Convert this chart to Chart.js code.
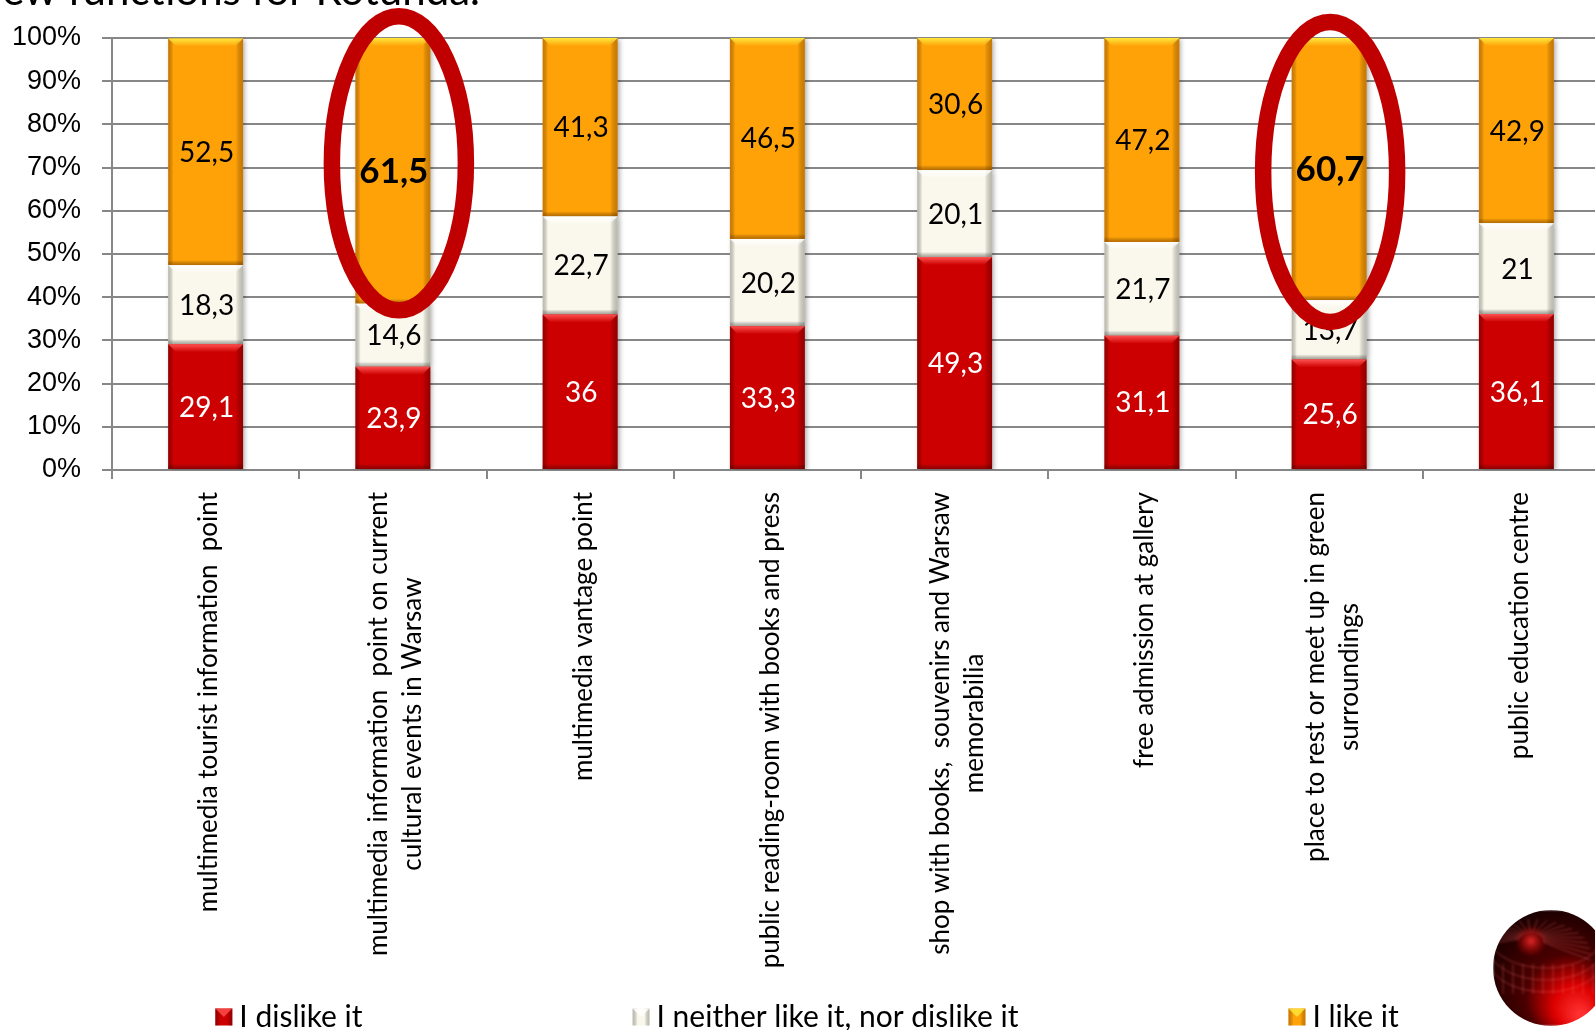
<!DOCTYPE html>
<html>
<head>
<meta charset="utf-8">
<title>New functions for Rotunda</title>
<script src="https://cdn.jsdelivr.net/npm/chart.js@4.4.1/dist/chart.umd.min.js"></script>
<style>
  html, body { margin: 0; padding: 0; overflow: hidden; background: #ffffff; }
  canvas { display: block; }
</style>
</head>
<body>
<canvas id="chart" width="1615" height="1030"></canvas>
<script>
// ---- data ----
const categories = [
  ['multimedia tourist information  point'],
  ['multimedia information  point on current', 'cultural events in Warsaw'],
  ['multimedia vantage point'],
  ['public reading-room with books and press'],
  ['shop with books,  souvenirs and Warsaw', 'memorabilia'],
  ['free admission at gallery'],
  ['place to rest or meet up in green', 'surroundings'],
  ['public education centre']
];
const seriesNames = ['I dislike it', 'I neither like it, nor dislike it', 'I like it'];
const dislike = [29.1, 23.9, 36, 33.3, 49.3, 31.1, 25.6, 36.1];
const neutral = [18.3, 14.6, 22.7, 20.2, 20.1, 21.7, 13.7, 21];
const like    = [52.5, 61.5, 41.3, 46.5, 30.6, 47.2, 60.7, 42.9];
const yTickValues = [0, 10, 20, 30, 40, 50, 60, 70, 80, 90, 100];
const highlighted = [1, 6];          // categories circled in red, "like" value in bold
const titleText = 'new functions for Rotunda.';

// ---- styling ----
const CAL = "Lato, 'Open Sans', sans-serif";
const ARI = "'Liberation Sans', Arial, sans-serif";
const GRID = '#878787';
const seriesStyle = [
  { fill: '#CC0000', top: [255, 80, 80],   dark: 'rgba(80,0,0,0.45)',    text: '#FFFFFF' },
  { fill: '#FAF8EC', top: [255, 255, 255], dark: 'rgba(110,110,100,0.45)', text: '#000000' },
  { fill: '#FFA208', top: [255, 232, 60],  dark: 'rgba(140,70,0,0.45)',  text: '#000000' }
];
const circleMarks = [
  { index: 1, value: 71, dx: 6, rx: 67, ry: 147 },
  { index: 6, value: 69, dx: 1, rx: 67, ry: 150 }
];

const fmt = v => String(v).replace('.', ',');

// bevelled "3D" shading on every bar segment, with a soft drop shadow
const bevelPlugin = {
  id: 'bevel',
  beforeDatasetDraw(chart) {
    const ctx = chart.ctx;
    ctx.save();
    ctx.shadowColor = 'rgba(0,0,0,0.35)';
    ctx.shadowBlur = 5;
    ctx.shadowOffsetX = 2;
    ctx.shadowOffsetY = 1;
  },
  afterDatasetDraw(chart, args) {
    const ctx = chart.ctx;
    ctx.restore();
    const st = seriesStyle[args.index];
    args.meta.data.forEach(el => {
      const p = el.getProps(['x', 'y', 'base', 'width'], true);
      const l = p.x - p.width / 2, r = p.x + p.width / 2;
      const t = Math.min(p.y, p.base), b = Math.max(p.y, p.base);
      const h = b - t;
      ctx.save();
      let g = ctx.createLinearGradient(l, 0, r, 0);
      g.addColorStop(0, st.dark);
      g.addColorStop(0.07, 'rgba(0,0,0,0)');
      g.addColorStop(0.9, 'rgba(0,0,0,0)');
      g.addColorStop(1, st.dark);
      ctx.fillStyle = g;
      ctx.fillRect(l, t, r - l, h);
      const bh = Math.min(8, h / 3);
      const [tr, tg, tb] = st.top;
      g = ctx.createLinearGradient(0, t, 0, t + bh);
      g.addColorStop(0, `rgba(${tr},${tg},${tb},1)`);
      g.addColorStop(1, `rgba(${tr},${tg},${tb},0)`);
      ctx.fillStyle = g;
      ctx.beginPath();
      ctx.moveTo(l, t); ctx.lineTo(r, t);
      ctx.lineTo(r - bh, t + bh); ctx.lineTo(l + bh, t + bh);
      ctx.closePath();
      ctx.fill();
      g = ctx.createLinearGradient(0, b - 5, 0, b);
      g.addColorStop(0, 'rgba(0,0,0,0)');
      g.addColorStop(1, st.dark);
      ctx.fillStyle = g;
      ctx.fillRect(l, b - 5, r - l, 5);
      ctx.restore();
    });
  }
};

// value labels centred in each segment
const valueLabelPlugin = {
  id: 'valueLabels',
  afterDatasetsDraw(chart) {
    const ctx = chart.ctx;
    ctx.save();
    ctx.textAlign = 'center';
    ctx.textBaseline = 'middle';
    chart.data.datasets.forEach((ds, di) => {
      const meta = chart.getDatasetMeta(di);
      meta.data.forEach((el, i) => {
        const p = el.getProps(['x', 'y', 'base'], true);
        const bold = di === 2 && highlighted.includes(i);
        ctx.font = bold ? `bold 35px ${CAL}` : `28px ${CAL}`;
        ctx.fillStyle = seriesStyle[di].text;
        ctx.fillText(fmt(ds.data[i]), p.x + 1, (p.y + p.base) / 2 + 1);
      });
    });
    ctx.restore();
  }
};

// rotated category labels, multi-line blocks centred on the category
const categoryLabelPlugin = {
  id: 'categoryLabels',
  afterDraw(chart) {
    const ctx = chart.ctx;
    const xs = chart.scales.x;
    const lh = 34;
    ctx.save();
    ctx.font = `26px ${CAL}`;
    ctx.fillStyle = '#000000';
    ctx.textAlign = 'center';
    ctx.textBaseline = 'middle';
    chart.data.labels.forEach((lines, i) => {
      const px = xs.getPixelForTick(i);
      const maxW = Math.max(...lines.map(s => ctx.measureText(s).width));
      const top = xs.top + 22;
      lines.forEach((s, j) => {
        ctx.save();
        ctx.translate(px + 3 + (j - (lines.length - 1) / 2) * lh, top + maxW / 2);
        ctx.rotate(-Math.PI / 2);
        ctx.fillText(s, 0, 0);
        ctx.restore();
      });
    });
    ctx.restore();
  }
};

// red ellipses around the highlighted bars
const circlePlugin = {
  id: 'circles',
  afterDraw(chart) {
    const ctx = chart.ctx;
    const meta = chart.getDatasetMeta(2);
    const ys = chart.scales.y;
    ctx.save();
    ctx.strokeStyle = '#C00000';
    ctx.lineWidth = 16.5;
    circleMarks.forEach(m => {
      const el = meta.data[m.index];
      ctx.beginPath();
      ctx.ellipse(el.x + m.dx, ys.getPixelForValue(m.value), m.rx, m.ry, 0, 0, Math.PI * 2);
      ctx.stroke();
    });
    ctx.restore();
  }
};

// legend row at the bottom
const legendPlugin = {
  id: 'bottomLegend',
  afterDraw(chart) {
    const ctx = chart.ctx;
    const box = 17, gapText = 7, gapItem = 270, cy = 1017;
    ctx.save();
    ctx.font = `30px ${CAL}`;
    ctx.textBaseline = 'middle';
    const widths = seriesNames.map(n => box + gapText + ctx.measureText(n).width);
    const total = widths.reduce((a, b) => a + b, 0) + gapItem * (widths.length - 1);
    let x = 807 - total / 2;
    seriesNames.forEach((n, i) => {
      const st = seriesStyle[i];
      const y0 = cy - box / 2;
      ctx.fillStyle = st.fill;
      ctx.fillRect(x, y0, box, box);
      const g = ctx.createLinearGradient(x, 0, x + box, 0);
      g.addColorStop(0, st.dark); g.addColorStop(0.3, 'rgba(0,0,0,0)');
      g.addColorStop(0.7, 'rgba(0,0,0,0)'); g.addColorStop(1, st.dark);
      ctx.fillStyle = g;
      ctx.fillRect(x, y0, box, box);
      const [tr, tg, tb] = st.top;
      ctx.fillStyle = `rgba(${tr},${tg},${tb},0.8)`;
      ctx.beginPath();
      ctx.moveTo(x, y0); ctx.lineTo(x + box, y0); ctx.lineTo(x + box / 2, y0 + box / 2); ctx.closePath();
      ctx.fill();
      ctx.fillStyle = '#000000';
      ctx.fillText(n, x + box + gapText, cy);
      x += widths[i] + gapItem;
    });
    ctx.restore();
  }
};

// heading (runs off the top edge) and the Rotunda emblem
const decorPlugin = {
  id: 'decor',
  afterDraw(chart) {
    const ctx = chart.ctx;
    ctx.save();
    ctx.font = `42px ${CAL}`;
    ctx.fillStyle = '#000000';
    ctx.textAlign = 'right';
    ctx.textBaseline = 'alphabetic';
    ctx.fillText(titleText, 480, 5);
    ctx.restore();

    const cx = 1551, cy = 968, r = 58;
    ctx.save();
    ctx.filter = 'blur(1px)';
    ctx.beginPath();
    ctx.arc(cx, cy, r, 0, Math.PI * 2);
    ctx.clip();
    let g = ctx.createRadialGradient(cx + 30, cy + 48, 4, cx + 8, cy + 14, r * 1.3);
    g.addColorStop(0, '#ff3030');
    g.addColorStop(0.25, '#dd0000');
    g.addColorStop(0.55, '#4a0000');
    g.addColorStop(1, '#1a0000');
    ctx.fillStyle = g;
    ctx.fillRect(cx - r, cy - r, 2 * r, 2 * r);
    g = ctx.createRadialGradient(cx - 20, cy - 27, 1, cx - 20, cy - 27, 16);
    g.addColorStop(0, 'rgba(230,40,40,0.9)');
    g.addColorStop(1, 'rgba(200,0,0,0)');
    ctx.fillStyle = g;
    ctx.fillRect(cx - r, cy - r, 2 * r, 2 * r);
    ctx.strokeStyle = 'rgba(255,110,110,0.4)';
    ctx.lineWidth = 1;
    for (let a = -2.9; a < 0.2; a += 0.16) {
      ctx.beginPath();
      ctx.moveTo(cx - 20 + Math.cos(a) * 12, cy - 27 + Math.sin(a) * 8);
      ctx.lineTo(cx - 20 + Math.cos(a) * 60, cy - 27 + Math.sin(a) * 36 + 14);
      ctx.stroke();
    }
    [-4, 8, 20].forEach(dy => {
      ctx.beginPath();
      ctx.ellipse(cx - 5, cy + dy - 30, 58, 34, 0, 0.35, Math.PI - 0.2);
      ctx.stroke();
    });
    for (let k = -48; k <= 45; k += 10) {
      ctx.beginPath();
      ctx.moveTo(cx + k, cy - 4);
      ctx.lineTo(cx + k, cy + 26);
      ctx.stroke();
    }
    ctx.restore();
  }
};

new Chart(document.getElementById('chart'), {
  type: 'bar',
  data: {
    labels: categories,
    datasets: [
      { label: seriesNames[0], data: dislike, backgroundColor: seriesStyle[0].fill },
      { label: seriesNames[1], data: neutral, backgroundColor: seriesStyle[1].fill },
      { label: seriesNames[2], data: like,    backgroundColor: seriesStyle[2].fill }
    ]
  },
  options: {
    responsive: false,
    animation: false,
    devicePixelRatio: 1,
    layout: { padding: { top: 38, right: 5, bottom: 0, left: 0 } },
    datasets: { bar: { barPercentage: 0.4, categoryPercentage: 1.0, borderWidth: 0 } },
    plugins: { legend: { display: false }, tooltip: { enabled: false }, title: { display: false } },
    scales: {
      x: {
        stacked: true,
        offset: true,
        grid: { display: true, offset: true, drawOnChartArea: false, drawTicks: true, tickLength: 9, color: GRID, lineWidth: 2 },
        border: { display: true, color: GRID, width: 2 },
        ticks: { display: false },
        afterFit: s => { s.height = 560; }
      },
      y: {
        stacked: true,
        min: 0,
        max: 100,
        afterBuildTicks: s => { s.ticks = yTickValues.map(v => ({ value: v })); },
        grid: { color: GRID, lineWidth: 2, drawTicks: true, tickLength: 10 },
        border: { display: true, color: GRID, width: 2 },
        ticks: {
          padding: 21,
          color: '#000000',
          font: { family: ARI, size: 27 },
          callback: v => v + '%'
        },
        afterFit: s => { s.width = 112; }
      }
    }
  },
  plugins: [bevelPlugin, valueLabelPlugin, categoryLabelPlugin, circlePlugin, legendPlugin, decorPlugin]
});
</script>
</body>
</html>
